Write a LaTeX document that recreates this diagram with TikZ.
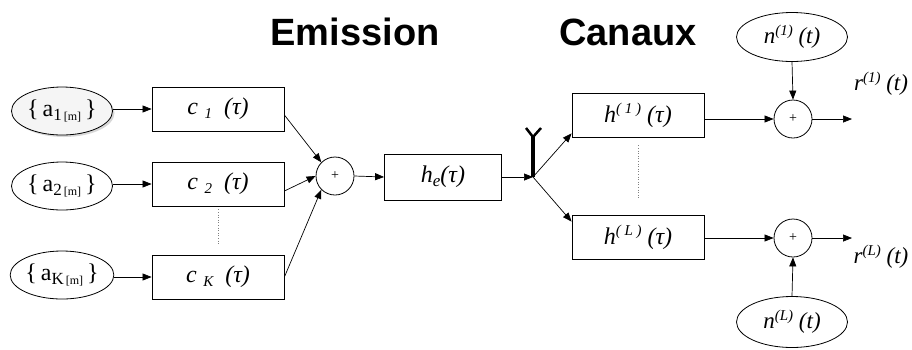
\documentclass[tikz,border=0pt]{standalone}
\usepackage{fontspec}
\setmainfont{Liberation Serif}
\newfontfamily\titlefont{Liberation Sans}
\usetikzlibrary{arrows.meta,shapes.geometric,shadows}
\newcommand\lsub[2][15]{\raisebox{-0.3ex}{\fontsize{#1}{#1}\selectfont #2}}
\newcommand\lsup[2][15]{\raisebox{0.8ex}{\fontsize{#1}{#1}\selectfont #2}}
\newcommand\asrc[1]{\{\,a\lsub[17]{#1}\lsub[12]{\,[m]}\,\}}
\begin{document}
\begin{tikzpicture}[x=1pt,y=-1pt,
  blk/.style={draw,line width=0.8pt,minimum width=132pt,minimum height=44pt,inner sep=0pt,font=\fontsize{24}{26}\selectfont\itshape},
  src/.style={draw,line width=0.8pt,ellipse,minimum width=101pt,minimum height=48pt,inner sep=0pt,font=\fontsize{24}{26}\selectfont},
  sumc/.style={draw,line width=0.8pt,circle,minimum size=38pt,inner sep=0pt,font=\fontsize{14}{14}\selectfont},
  arr/.style={-{Triangle[length=9pt,width=7pt]},line width=0.7pt},
  title/.style={font=\titlefont\bfseries\fontsize{38}{40}\selectfont,anchor=base},
  lbl/.style={font=\fontsize{23}{26}\selectfont\itshape},
  dots/.style={dotted,line width=0.6pt,gray}]
\useasboundingbox (0,0) rectangle (912,349);
% titles
\node[title] (tE) at (355,45) {Emission};
\node[title] (tC) at (628,45) {Canaux};
% sources
\node[src,fill=gray!8,drop shadow={shadow xshift=2pt,shadow yshift=-2pt,fill=gray!60}] (a1) at (62,111) {\asrc{1}};
\node[src] (a2) at (62,186) {\asrc{2}};
\node[src] (aK) at (62,275) {\asrc{K}};
% code boxes
\node[blk] (c1) at (218,109) {c\;\lsub{1}\enspace(τ)};
\node[blk] (c2) at (218,184) {c\;\lsub{2}\enspace(τ)};
\node[blk] (cK) at (218,277) {c\;\lsub{K}\enspace(τ)};
\draw[dots] ([yshift=-3pt]c2.south) -- ([yshift=10pt]cK.north);
% sum and emission filter
\node[sumc] (s1) at (335,176) {+};
\node[blk,minimum width=117pt,minimum height=46pt] (he) at (443,177) {h\lsub[17]{e}(τ)};
% antenna
\coordinate (J) at (533,177);
\coordinate (Jt) at (533,137);
\draw[line width=4pt] (J) -- (Jt);
\draw[line width=2.5pt] (526,128) -- (Jt) -- (541,128);
% channels
\node[blk] (h1) at (638,115) {h\lsup{( 1 )} (τ)};
\node[blk] (hL) at (638,237) {h\lsup{( L )} (τ)};
\draw[dots] ([yshift=-8pt]h1.south) -- ([yshift=15pt]hL.north);
\node[sumc] (s2) at (793,119) {+};
\node[sumc] (s3) at (793,238) {+};
\node[src,minimum width=111pt,minimum height=49pt,font=\fontsize{23}{26}\selectfont\itshape] (n1) at (792,37) {n\lsup{(1)} (t)};
\node[src,minimum width=111pt,minimum height=51pt,font=\fontsize{23}{26}\selectfont\itshape] (nL) at (792,322) {n\lsup{(L)} (t)};
\coordinate (o1) at (852,119);
\coordinate (oL) at (852,238);
\node[lbl] (r1) at (881,84) {r\lsup{(1)} (t)};
\node[lbl] (rL) at (881,257) {r\lsup{(L)} (t)};
% connectors
\draw[arr] (a1.east |- c1.west) -- (c1.west);
\draw[arr] (a2.east |- c2.west) -- (c2.west);
\draw[arr] (aK.east |- cK.west) -- (cK.west);
\draw[arr] ([yshift=-6pt]c1.east) -- (s1.north west);
\draw[arr] ([yshift=-7pt]c2.east) -- (s1.west);
\draw[arr] (cK.east) -- (s1.south west);
\draw[arr] (s1.east) -- (he.west);
\draw[arr] (he.east) -- (J);
\draw[arr] (J) -- ([yshift=4pt]h1.south west);
\draw[arr] (J) -- ([yshift=-7pt]hL.north west);
\draw[arr] (h1.east |- s2.west) -- (s2.west);
\draw[arr] (hL.east |- s3.west) -- (s3.west);
\draw[arr] (s2.east) -- (o1);
\draw[arr] (s3.east) -- (oL);
\draw[arr] (n1.south) -- (s2.north);
\draw[arr] (nL.north) -- (s3.south);
\end{tikzpicture}
\end{document}
